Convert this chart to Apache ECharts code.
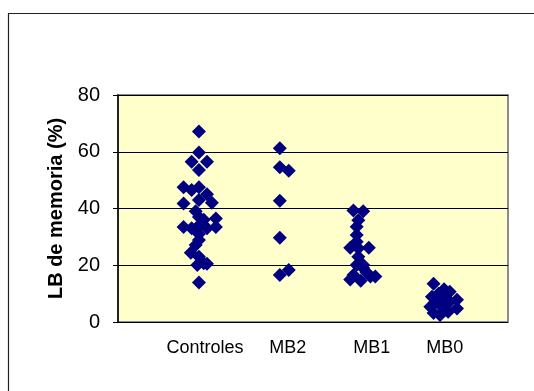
<!DOCTYPE html>
<html>
<head>
<meta charset="utf-8">
<script src="https://cdn.jsdelivr.net/npm/echarts@6/dist/echarts.min.js"></script>
<style>
  html, body { margin: 0; padding: 0; background: #fff; }
  #chart { width: 534px; height: 391px; }
</style>
</head>
<body>
<div id="chart"></div>
<script>
// Group names along the horizontal axis
const categories = ['Controles', 'MB2', 'MB1', 'MB0'];

// Y-axis tick values
const yTicks = [0, 20, 40, 60, 80];

// Values per group (LB de memoria, %) and their horizontal spread within the group
const controlesY = [67.1, 59.7, 56.5, 56.5, 53.6, 47.5, 46.5, 47.5, 45.0, 43.0,
                    42.0, 41.8, 39.0, 37.0, 36.0, 36.5, 33.5, 33.0, 34.0, 33.0,
                    33.5, 31.0, 28.9, 27.1, 24.4, 23.0, 20.7, 20.1, 20.5, 13.9];
const controlesJitter = [0, 0, -0.09, 0.10, 0, -0.19, -0.09, 0, 0.10, 0,
                         0.16, -0.19, -0.04, 0, 0.06, 0.21, -0.19, -0.09, 0, 0.10,
                         0.21, 0, 0, -0.04, -0.10, 0, 0.06, -0.02, 0.10, 0];

const mb2Y = [61.2, 54.5, 53.3, 42.7, 29.7, 16.6, 18.3];
const mb2Jitter = [0, 0, 0.11, 0, 0, 0, 0.11];

const mb1Y = [39.3, 39.0, 35.9, 33.6, 30.7, 28.3, 26.2, 26.2, 26.0, 23.0,
              20.1, 20.1, 16.6, 15.0, 14.5, 16.0, 16.0, 17.5, 19.0];
const mb1Jitter = [-0.09, 0.03, -0.03, -0.05, -0.05, -0.05, -0.13, 0.10, -0.03, -0.03,
                   -0.05, 0.03, -0.09, -0.13, 0, 0.12, 0.18, 0.07, 0.03];

const mb0Y = [13.5, 10.7, 8.9, 8.9, 7.8, 7.2, 7.2, 5.4, 5.4, 4.8,
              3.2, 3.6, 2.5, 6.0, 10.0, 11.5];
const mb0Jitter = [-0.10, 0.10, -0.12, 0.02, 0.19, -0.06, 0.10, -0.14, 0, 0.19,
                   -0.10, 0.08, -0.02, 0.05, -0.04, 0.03];

const groups = [
  { y: controlesY, jitter: controlesJitter },
  { y: mb2Y, jitter: mb2Jitter },
  { y: mb1Y, jitter: mb1Jitter },
  { y: mb0Y, jitter: mb0Jitter }
];

// Horizontal nudge (px) of each group caption relative to its column
const captionShift = [6, 8, 11, 3];

const rich = {};
captionShift.forEach((s, i) => {
  rich['c' + i] = {
    fontFamily: 'Liberation Sans, Arial, sans-serif',
    fontSize: 18,
    color: '#000',
    padding: [0, 0, 0, s * 2]
  };
});

const chart = echarts.init(document.getElementById('chart'), null, { renderer: 'canvas' });

const series = groups.map((g, gi) => ({
  type: 'scatter',
  name: categories[gi],
  symbol: 'diamond',
  symbolSize: 14,
  itemStyle: { color: '#000080', opacity: 1 },
  data: g.y.map((v, i) => [gi + 1 + g.jitter[i], v]),
  z: 3
}));

chart.setOption({
  animation: false,
  backgroundColor: '#fff',
  textStyle: { fontFamily: 'Liberation Sans, Arial, sans-serif' },
  graphic: [{
    type: 'rect',
    shape: { x: 8.5, y: 13.5, width: 600, height: 500 },
    style: { fill: 'none', stroke: '#222', lineWidth: 1.2 },
    silent: true,
    z: -10
  }],
  grid: {
    left: 118, top: 95, right: 26, bottom: 69,
    show: true,
    backgroundColor: '#FFFFCC',
    borderColor: '#8c8c8c',
    borderWidth: 2
  },
  xAxis: {
    type: 'value',
    min: 0,
    max: 4.82,
    interval: 1,
    axisLine: { show: false },
    axisTick: { show: false },
    splitLine: { show: false },
    axisLabel: {
      margin: 17,
      showMaxLabel: false,
      showMinLabel: false,
      formatter: v => {
        const i = Math.round(v) - 1;
        if (Math.abs(v - Math.round(v)) > 1e-6 || i < 0 || i >= categories.length) return '';
        return '{c' + i + '|' + categories[i] + '}';
      },
      rich: rich
    }
  },
  yAxis: {
    type: 'value',
    min: yTicks[0],
    max: yTicks[yTicks.length - 1],
    interval: yTicks[1] - yTicks[0],
    name: 'LB de memoria (%)',
    nameLocation: 'middle',
    nameRotate: 90,
    nameGap: 52,
    nameTextStyle: {
      fontFamily: 'Liberation Sans, Arial, sans-serif',
      fontSize: 20,
      fontWeight: 'bold',
      color: '#000'
    },
    axisLine: { show: true, lineStyle: { color: '#000', width: 1.5 } },
    axisTick: { show: true, inside: false, length: 5, lineStyle: { color: '#000', width: 1 } },
    splitLine: { show: true, lineStyle: { color: '#000', width: 1 } },
    axisLabel: {
      margin: 18,
      fontFamily: 'Liberation Sans, Arial, sans-serif',
      fontSize: 20,
      color: '#000'
    }
  },
  series: series
});
</script>
</body>
</html>
